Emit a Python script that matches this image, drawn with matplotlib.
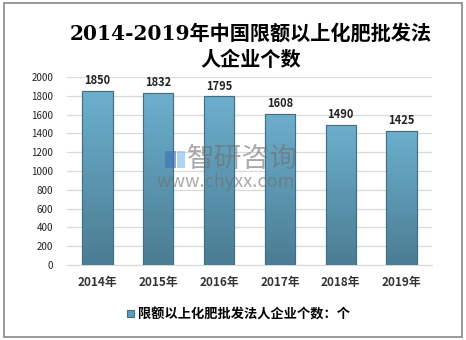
import numpy as np
import matplotlib.pyplot as plt
from matplotlib.patches import Rectangle
from matplotlib.colors import LinearSegmentedColormap

plt.rcParams['font.family'] = ['Noto Sans CJK SC', 'DejaVu Sans']

years = ['2014年', '2015年', '2016年', '2017年', '2018年', '2019年']
counts = [1850, 1832, 1795, 1608, 1490, 1425]
series_name = '限额以上化肥批发法人企业个数：个'
title = '2014-2019年中国限额以上化肥批发法\n人企业个数'

fig = plt.figure(figsize=(4.66, 3.40), dpi=100)
ax = fig.add_axes([0.1438, 0.2206, 0.7833, 0.5529])

x = np.arange(len(years))
bars = ax.bar(x, counts, width=0.5, color='#5f9cb8', edgecolor='#3f6f85',
              linewidth=0.8, label=series_name, zorder=3)

# vertical gradient inside each bar
cmap = LinearSegmentedColormap.from_list('bar', ['#4b7d93', '#6cafcd'])
grad = np.linspace(0, 1, 100).reshape(-1, 1)
for b in bars:
    im = ax.imshow(grad, cmap=cmap, origin='lower', aspect='auto',
                   extent=(b.get_x(), b.get_x() + b.get_width(), 0, b.get_height()),
                   zorder=3.5)
    im.set_clip_path(b)
for b in bars:
    ax.add_patch(Rectangle((b.get_x(), 0), b.get_width(), b.get_height(),
                           fill=False, edgecolor='#3f6f85', linewidth=0.8, zorder=4))

for xi, v in zip(x, counts):
    ax.text(xi, v + 40, str(v), ha='center', va='bottom', fontsize=8,
            fontweight='bold', color='#222222', zorder=5)

ax.set_xlim(-0.5, len(years) - 0.5)
ax.set_ylim(0, 2000)
ax.set_yticks(np.arange(0, 2001, 200))
ax.set_xticks(x)
ax.set_xticklabels(years, fontsize=8.5, fontweight='bold', color='#333333')
ax.tick_params(axis='y', length=0, pad=10, labelsize=7, labelcolor='#222222')
ax.tick_params(axis='x', length=0, pad=8)
ax.grid(axis='y', color='#d9d9d9', linewidth=0.9, zorder=0)
for s in ['top', 'right', 'left']:
    ax.spines[s].set_visible(False)
ax.spines['bottom'].set_color('#d9d9d9')

fig.text(0.539, 0.862, title, ha='center', va='center', fontsize=14.5,
         fontweight='bold', family=['DejaVu Serif', 'Noto Sans CJK SC'],
         linespacing=1.4)

# watermark
fig.text(0.521, 0.532, '智研咨询', ha='center', va='center', fontsize=20,
         color='#707070', alpha=0.6, zorder=10)
fig.text(0.485, 0.465, 'www.chyxx.com', ha='center', va='center', fontsize=13,
         color='#707070', alpha=0.6, zorder=10)
fig.add_artist(Rectangle((0.355, 0.506), 0.022, 0.05, transform=fig.transFigure,
                         facecolor='#3d6fb0', alpha=0.6, edgecolor='none', zorder=10))
fig.add_artist(Rectangle((0.380, 0.506), 0.016, 0.05, transform=fig.transFigure,
                         facecolor='#8fc3ea', alpha=0.7, edgecolor='none', zorder=10))

leg = fig.legend(handles=[bars], labels=[series_name], loc='center',
                 bbox_to_anchor=(0.512, 0.076), frameon=False, handlelength=0.5,
                 handleheight=0.5, handletextpad=0.3,
                 prop={'size': 9.5, 'weight': 'bold'})

fig.add_artist(Rectangle((0.008, 0.01), 0.984, 0.98, transform=fig.transFigure,
                         fill=False, edgecolor='#888888', linewidth=1.2))

fig.savefig('out.png', dpi=100)
